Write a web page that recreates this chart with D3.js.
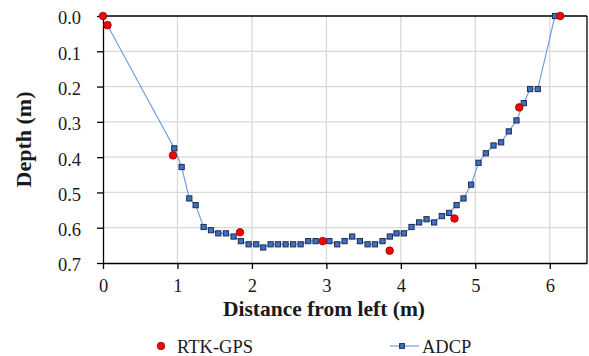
<!DOCTYPE html>
<html><head><meta charset="utf-8">
<script src="https://cdn.jsdelivr.net/npm/d3@7"></script>
<style>
body{margin:0;background:#fff}
svg{display:block}
svg text{font-family:"Liberation Serif","Times New Roman",serif;fill:#1a1a1a}
</style>
</head><body>
<svg id="c" width="589" height="356"></svg>
<script>
const gpsX = [0.0, 0.06, 0.94, 1.84, 2.95, 3.85, 4.72, 5.59, 6.14];
const gpsDepth = [0.0, 0.026, 0.395, 0.613, 0.638, 0.665, 0.574, 0.259, 0.0];

const adcpX = [0.06, 0.957, 1.056, 1.159, 1.244, 1.351, 1.45, 1.548, 1.651, 1.754, 1.852, 1.956, 2.058, 2.152, 2.251, 2.349, 2.452, 2.554, 2.654, 2.756, 2.855, 3.04, 3.145, 3.244, 3.347, 3.45, 3.553, 3.651, 3.754, 3.852, 3.942, 4.04, 4.143, 4.246, 4.345, 4.447, 4.55, 4.649, 4.748, 4.842, 4.944, 5.043, 5.141, 5.244, 5.347, 5.45, 5.553, 5.651, 5.736, 5.839, 6.07];
const adcpDepth = [0.026, 0.375, 0.428, 0.517, 0.536, 0.598, 0.607, 0.616, 0.616, 0.625, 0.638, 0.647, 0.647, 0.656, 0.647, 0.647, 0.647, 0.647, 0.647, 0.638, 0.638, 0.638, 0.647, 0.638, 0.625, 0.638, 0.647, 0.647, 0.638, 0.625, 0.616, 0.616, 0.598, 0.585, 0.576, 0.585, 0.567, 0.558, 0.536, 0.517, 0.478, 0.416, 0.389, 0.367, 0.358, 0.327, 0.296, 0.247, 0.207, 0.207, 0.0];

const xTicks = [0, 1, 2, 3, 4, 5, 6];
const yTicks = [0.0, 0.1, 0.2, 0.3, 0.4, 0.5, 0.6, 0.7];
const seriesNames = ["RTK-GPS", "ADCP"];

const svg = d3.select("#c");
const L = 103, R = 587, T = 16, B = 263;
const x = d3.scaleLinear().domain([0, 6.5]).range([L, R]);
const y = d3.scaleLinear().domain([0, 0.7]).range([T, B]);
const serif = "Liberation Serif";

// grid
const g = svg.append("g");
g.selectAll(".gx").data(xTicks.filter(d => d > 0)).enter().append("line")
  .attr("x1", d => x(d)).attr("x2", d => x(d)).attr("y1", T).attr("y2", B)
  .attr("stroke", "#d9d9d9").attr("stroke-width", 1.3);
g.selectAll(".gy").data(yTicks.filter(d => d > 0 && d < 0.7)).enter().append("line")
  .attr("x1", L).attr("x2", R).attr("y1", d => y(d)).attr("y2", d => y(d))
  .attr("stroke", "#d9d9d9").attr("stroke-width", 1.3);

// frame top/right
svg.append("line").attr("x1", L).attr("x2", R).attr("y1", T).attr("y2", T).attr("stroke", "#000").attr("stroke-width", 1.3);
svg.append("line").attr("x1", R).attr("x2", R).attr("y1", T).attr("y2", B).attr("stroke", "#000").attr("stroke-width", 1.3);

// axes
const xAxis = svg.append("g").attr("transform", `translate(0,${B})`)
  .call(d3.axisBottom(x).tickValues(xTicks).tickFormat(d3.format("d")).tickSizeInner(6).tickSizeOuter(0).tickPadding(1));
const yAxis = svg.append("g").attr("transform", `translate(${L},0)`)
  .call(d3.axisLeft(y).tickValues(yTicks).tickFormat(d3.format(".1f")).tickSizeInner(6).tickSizeOuter(0).tickPadding(16));
[xAxis, yAxis].forEach(a => {
  a.attr("font-family", null).attr("font-size", null);
  a.select(".domain").attr("stroke", "#000").attr("stroke-width", 1.3);
  a.selectAll(".tick line").attr("stroke", "#000").attr("stroke-width", 1.3);
  a.selectAll(".tick text").style("font-family", serif).style("font-size", "18.5px").attr("fill", "#1a1a1a");
});
xAxis.selectAll(".tick text").attr("dy", null).attr("y", 29);
yAxis.selectAll(".tick text").attr("dy", "0.43em");

// ADCP line + markers
const adcp = adcpX.map((d, i) => [d, adcpDepth[i]]);
svg.append("path").datum(adcp)
  .attr("d", d3.line().x(d => x(d[0])).y(d => y(d[1])))
  .attr("fill", "none").attr("stroke", "#6e98dc").attr("stroke-width", 1.1);
svg.selectAll(".sq").data(adcp).enter().append("rect")
  .attr("x", d => x(d[0]) - 2.6).attr("y", d => y(d[1]) - 2.6)
  .attr("width", 5.2).attr("height", 5.2)
  .attr("fill", "#3f6fc6").attr("stroke", "#1c2e4f").attr("stroke-width", 1);

// GPS points
const gps = gpsX.map((d, i) => [d, gpsDepth[i]]);
svg.selectAll(".pt").data(gps).enter().append("circle")
  .attr("cx", d => x(d[0])).attr("cy", d => y(d[1])).attr("r", 3.8)
  .attr("fill", "#ff0000").attr("stroke", "#7a1010").attr("stroke-width", 0.8);

// titles
svg.append("text").attr("x", 324).attr("y", 315.5).attr("text-anchor", "middle")
  .style("font-family", serif).style("font-weight", "bold").style("font-size", "21.5px")
  .text("Distance from left (m)");
svg.append("text").attr("transform", `translate(31,${(T + B) / 2}) rotate(-90)`).attr("text-anchor", "middle")
  .style("font-family", serif).style("font-weight", "bold").style("font-size", "22px")
  .text("Depth (m)");

// legend
const ly = 346;
svg.append("circle").attr("cx", 161).attr("cy", ly).attr("r", 3.8)
  .attr("fill", "#ff0000").attr("stroke", "#7a1010").attr("stroke-width", 0.8);
svg.append("text").attr("x", 177).attr("y", 352.5)
  .style("font-family", serif).style("font-size", "18.5px").text(seriesNames[0]);
svg.append("line").attr("x1", 390).attr("x2", 419).attr("y1", ly).attr("y2", ly)
  .attr("stroke", "#6e98dc").attr("stroke-width", 1.1);
svg.append("rect").attr("x", 402 - 2.4).attr("y", ly - 2.4).attr("width", 4.8).attr("height", 4.8)
  .attr("fill", "#3f6fc6").attr("stroke", "#1c2e4f").attr("stroke-width", 1);
svg.append("text").attr("x", 422).attr("y", 352.5)
  .style("font-family", serif).style("font-size", "18.5px").text(seriesNames[1]);
</script>
</body></html>
